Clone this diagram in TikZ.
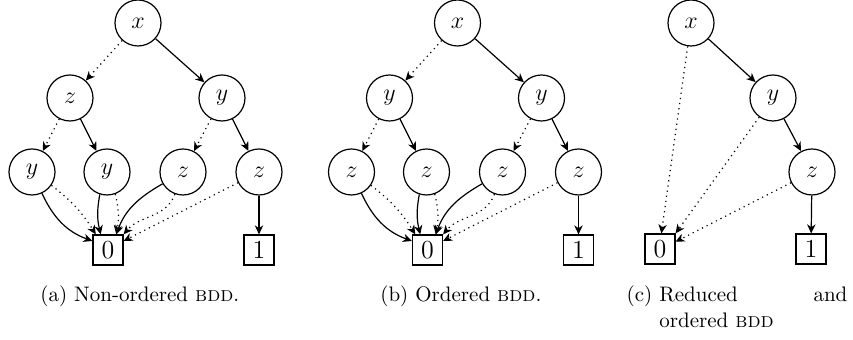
\documentclass[tikz,border=0pt]{standalone}
\usepackage{tikz}
\usetikzlibrary{arrows, arrows.meta}
\tikzstyle{var}=[draw, circle, minimum size=23pt, inner sep=0pt, line width=0.6pt, font=\fontsize{13}{15}\selectfont]
\tikzstyle{leaf}=[draw, rectangle, minimum size=15pt, inner sep=0pt, line width=0.6pt, font=\fontsize{13}{15}\selectfont]
\tikzstyle{hi-edge}=[-{Stealth[length=4.5pt,width=4.2pt,inset=1.4pt]}, line width=0.6pt]
\tikzstyle{lo-edge}=[-{Stealth[length=4.5pt,width=4.2pt,inset=1.4pt]}, dotted, line width=0.6pt]
\tikzstyle{subcap}=[inner sep=0pt, font=\fontsize{10.5}{13}\selectfont]

\begin{document}
\begin{tikzpicture}[x=0.5pt, y=-0.5pt]
\useasboundingbox (0,0) rectangle (853,340);

% (a) non-ordered
\node[var] (a-root) at (138,23) {$x$};
\node[var] (a-lo) at (70,98) {$z$};
\node[var] (a-hi) at (222,98) {$y$};
\node[var] (a-lolo) at (32,172) {$y$};
\node[var] (a-lohi) at (107,172) {$y$};
\node[var] (a-hilo) at (183,172) {$z$};
\node[var] (a-hihi) at (259,172) {$z$};
\node[leaf] (a-zero) at (108,250) {0};
\node[leaf] (a-one) at (259,250) {1};

% (b) ordered
\node[var] (b-root) at (457.5,23) {$x$};
\node[var] (b-lo) at (389.5,98) {$y$};
\node[var] (b-hi) at (541.5,98) {$y$};
\node[var] (b-lolo) at (351.5,172) {$z$};
\node[var] (b-lohi) at (426.5,172) {$z$};
\node[var] (b-hilo) at (502.5,172) {$z$};
\node[var] (b-hihi) at (578.5,172) {$z$};
\node[leaf] (b-zero) at (427.5,250) {0};
\node[leaf] (b-one) at (578.5,250) {1};

\foreach \p in {a,b}
{
  \draw[lo-edge] (\p-root) -- (\p-lo);
  \draw[hi-edge] (\p-root) -- (\p-hi);
  \draw[lo-edge] (\p-lo) -- (\p-lolo);
  \draw[hi-edge] (\p-lo) -- (\p-lohi);
  \draw[lo-edge] (\p-hi) -- (\p-hilo);
  \draw[hi-edge] (\p-hi) -- (\p-hihi);
  \draw[hi-edge] (\p-lolo) to[out=-65,in=160] (\p-zero.150);
  \draw[lo-edge] (\p-lolo) to[bend left=10] (\p-zero.128);
  \draw[hi-edge] (\p-lohi) to[bend right=12] (\p-zero.115);
  \draw[lo-edge] (\p-lohi) to[bend left=12] (\p-zero.62);
  \draw[hi-edge] (\p-hilo) to[out=-150,in=70] (\p-zero.62);
  \draw[lo-edge] (\p-hilo) to[out=-110,in=50] (\p-zero.north east);
  \draw[lo-edge] (\p-hihi) -- (\p-zero.30);
  \draw[hi-edge] (\p-hihi) -- (\p-one);
}

% (c) reduced and ordered
\node[var] (c-root) at (691,23) {$x$};
\node[var] (c-hi) at (773,98) {$y$};
\node[var] (c-hihi) at (812,172) {$z$};
\node[leaf] (c-zero) at (660,249) {0};
\node[leaf] (c-one) at (811,249) {1};
\draw[hi-edge] (c-root) -- (c-hi);
\draw[hi-edge] (c-hi) -- (c-hihi);
\draw[hi-edge] (c-hihi) -- (c-one);
\draw[lo-edge] (c-root) -- (c-zero.85);
\draw[lo-edge] (c-hi) -- (c-zero.north east);
\draw[lo-edge] (c-hihi) -- (c-zero.25);

% captions
\node[subcap, anchor=base west] (a-cap) at (40,302) {(a) Non-ordered \textsc{bdd}.};
\node[subcap, anchor=base west] (b-cap) at (380,302) {(b) Ordered \textsc{bdd}.};
\node[subcap, anchor=base west, text width=94pt, align=left] (c-cap) at (659,302)
  {\llap{(c)\ }Reduced\hfill and\\ordered \textsc{bdd}};
\end{tikzpicture}
\end{document}
